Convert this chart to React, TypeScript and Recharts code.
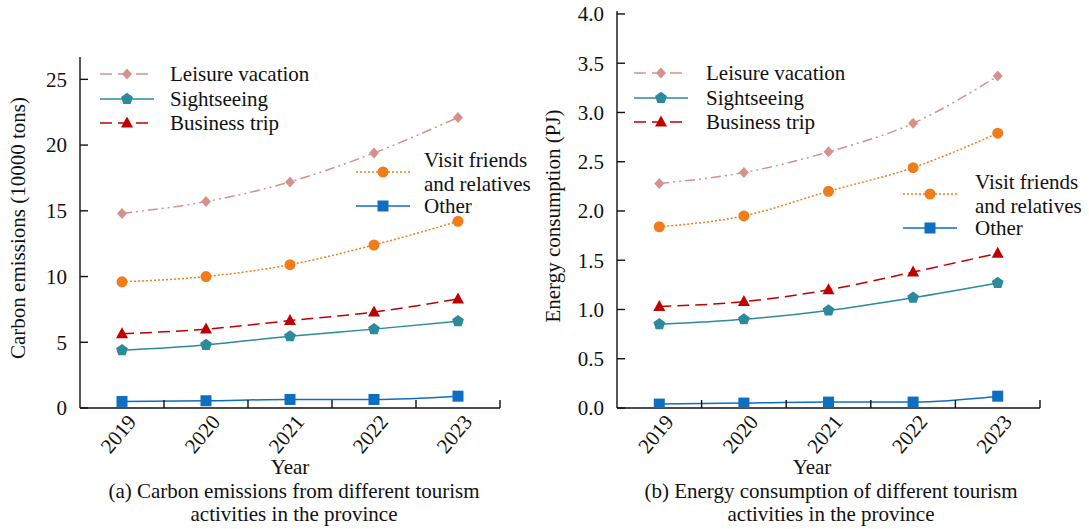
import React from 'react';
import { LineChart, Line, XAxis, YAxis } from 'recharts';

// categories
const years = ['2019', '2020', '2021', '2022', '2023'];

// (a) carbon emissions, 10000 tons
const carbonLeisure = [14.8, 15.7, 17.2, 19.4, 22.1];
const carbonSightseeing = [4.4, 4.8, 5.45, 6.0, 6.6];
const carbonBusiness = [5.65, 6.0, 6.65, 7.3, 8.3];
const carbonVisit = [9.6, 10.0, 10.9, 12.4, 14.2];
const carbonOther = [0.5, 0.55, 0.65, 0.65, 0.9];

// (b) energy consumption, PJ
const energyLeisure = [2.28, 2.39, 2.6, 2.89, 3.37];
const energySightseeing = [0.85, 0.9, 0.99, 1.12, 1.27];
const energyBusiness = [1.03, 1.08, 1.2, 1.38, 1.57];
const energyVisit = [1.84, 1.95, 2.2, 2.44, 2.79];
const energyOther = [0.04, 0.05, 0.06, 0.06, 0.12];

const carbonTicks = [0, 5, 10, 15, 20, 25];
const energyTicks = [0, 0.5, 1, 1.5, 2, 2.5, 3, 3.5, 4];
// integer ticks carry year labels, half ticks are the category boundary marks
const xTicks = [0, 0.5, 1, 1.5, 2, 2.5, 3, 3.5, 4, 4.5];

const buildRows = (a: number[], b: number[], c: number[], d: number[], e: number[]) =>
  years.map((_, i) => ({ i, leisure: a[i], sight: b[i], business: c[i], visit: d[i], other: e[i] }));

const carbonData = buildRows(carbonLeisure, carbonSightseeing, carbonBusiness, carbonVisit, carbonOther);
const energyData = buildRows(energyLeisure, energySightseeing, energyBusiness, energyVisit, energyOther);

const FONT = '"Liberation Serif", "Times New Roman", serif';
const INK = '#111';

type Shape = 'diamond' | 'pentagon' | 'triangle' | 'circle' | 'square';

const series: { key: string; name: string[]; color: string; dash?: string; legendDash?: string; shape: Shape }[] = [
  { key: 'leisure', name: ['Leisure vacation'], color: '#D6918D', dash: '10 4 2 4 2 4', legendDash: '12 6', shape: 'diamond' },
  { key: 'sight', name: ['Sightseeing'], color: '#2B8A9C', shape: 'pentagon' },
  { key: 'business', name: ['Business trip'], color: '#C00000', dash: '12 6', shape: 'triangle' },
  { key: 'visit', name: ['Visit friends', 'and relatives'], color: '#F07C1A', dash: '2 2', shape: 'circle' },
  { key: 'other', name: ['Other'], color: '#0E6FC1', shape: 'square' },
];

const Marker = ({ cx, cy, shape, color }: { cx: number; cy: number; shape: Shape; color: string }) => {
  if (cx == null || cy == null) return null;
  switch (shape) {
    case 'diamond':
      return <polygon points={`${cx},${cy - 5.5} ${cx + 5},${cy} ${cx},${cy + 5.5} ${cx - 5},${cy}`} fill={color} />;
    case 'pentagon': {
      const r = 6.2;
      const pts = [0, 1, 2, 3, 4]
        .map((k) => {
          const a = -Math.PI / 2 + (k * 2 * Math.PI) / 5;
          return `${cx + r * Math.cos(a)},${cy + r * Math.sin(a)}`;
        })
        .join(' ');
      return <polygon points={pts} fill={color} />;
    }
    case 'triangle':
      return <polygon points={`${cx},${cy - 6.5} ${cx + 6},${cy + 4.5} ${cx - 6},${cy + 4.5}`} fill={color} />;
    case 'circle':
      return <circle cx={cx} cy={cy} r={5.5} fill={color} />;
    default:
      return <rect x={cx - 5.5} y={cy - 5.5} width={11} height={11} fill={color} />;
  }
};

const dotFor = (shape: Shape, color: string) => (p: any) => (
  <Marker key={`${shape}-${p.index}`} cx={p.cx} cy={p.cy} shape={shape} color={color} />
);

const XTick = (props: any) => {
  const { x, y, payload } = props;
  const v = payload.value as number;
  if (Number.isInteger(v)) {
    return (
      <text
        transform={`translate(${x + 10},${y + 10}) rotate(-50)`}
        textAnchor="end"
        dominantBaseline="central"
        fontFamily={FONT}
        fontSize={21}
        fill={INK}
      >
        {years[v]}
      </text>
    );
  }
  return <line x1={x} x2={x} y1={y} y2={y - 8} stroke={INK} strokeWidth={1.4} />;
};

const makeYTick = (fmt: (v: number) => string) => (props: any) => {
  const { x, y, payload } = props;
  return (
    <g>
      <line x1={x} x2={x + 8} y1={y} y2={y} stroke={INK} strokeWidth={1.4} />
      <text x={x - 13} y={y} dy="0.35em" textAnchor="end" fontFamily={FONT} fontSize={21} fill={INK}>
        {fmt(payload.value)}
      </text>
    </g>
  );
};

const LegendRow = ({ s, lineX, y, textX, lineGap = 24.5 }: { s: typeof series[number]; lineX: number; y: number; textX: number; lineGap?: number }) => (
  <>
    <svg style={{ position: 'absolute', left: lineX, top: y - 10, overflow: 'visible' }} width={54} height={20}>
      <line x1={0} x2={54} y1={10} y2={10} stroke={s.color} strokeWidth={1.5} strokeDasharray={s.legendDash ?? s.dash} />
      <Marker cx={27} cy={10} shape={s.shape} color={s.color} />
    </svg>
    <div
      style={{
        position: 'absolute',
        left: textX,
        top: y - 12 - ((s.name.length - 1) * lineGap) / 2,
        fontSize: 21,
        lineHeight: `${lineGap}px`,
        whiteSpace: 'nowrap',
        color: INK,
      }}
    >
      {s.name.map((t) => (
        <div key={t}>{t}</div>
      ))}
    </div>
  </>
);

const Caption = ({ cx, top, lines }: { cx: number; top: number; lines: string[] }) => (
  <div
    style={{
      position: 'absolute',
      left: cx - 250,
      width: 500,
      top,
      textAlign: 'center',
      fontSize: 21,
      lineHeight: '23px',
      color: INK,
    }}
  >
    {lines.map((t) => (
      <div key={t}>{t}</div>
    ))}
  </div>
);

const VLabel = ({ cx, cy, text }: { cx: number; cy: number; text: string }) => (
  <div
    style={{
      position: 'absolute',
      left: cx - 200,
      top: cy - 12,
      width: 400,
      textAlign: 'center',
      fontSize: 21,
      lineHeight: '24px',
      transform: 'rotate(-90deg)',
      color: INK,
      whiteSpace: 'nowrap',
    }}
  >
    {text}
  </div>
);

const Panel = ({ data, domain, ticks, fmt, left, marginLeft, yWidth, top }: any) => (
  <div style={{ position: 'absolute', left, top: 0 }}>
    <LineChart width={520} height={529} data={data} margin={{ top, right: 20, left: marginLeft, bottom: 0 }}>
      <XAxis
        dataKey="i"
        type="number"
        domain={[-0.5, 4.5]}
        ticks={xTicks}
        interval={0}
        tick={<XTick />}
        tickLine={false}
        tickSize={0}
        tickMargin={0}
        height={121}
        axisLine={{ stroke: INK, strokeWidth: 1.4 }}
        allowDataOverflow
      />
      <YAxis
        type="number"
        domain={domain}
        ticks={ticks}
        interval={0}
        width={yWidth}
        tick={makeYTick(fmt)}
        tickLine={false}
        tickSize={0}
        tickMargin={0}
        axisLine={{ stroke: INK, strokeWidth: 1.4 }}
        allowDataOverflow
      />
      {series.map((s) => (
        <Line
          key={s.key}
          type="monotone"
          dataKey={s.key}
          stroke={s.color}
          strokeWidth={1.5}
          strokeDasharray={s.dash}
          dot={dotFor(s.shape, s.color)}
          activeDot={false}
          isAnimationActive={false}
        />
      ))}
    </LineChart>
  </div>
);

export default function App() {
  return (
    <div style={{ position: 'fixed', left: 0, top: 0, width: 1089, height: 529, background: '#fff', fontFamily: FONT, overflow: 'hidden' }}>
      <Panel data={carbonData} domain={[0, 26.7]} ticks={carbonTicks} fmt={(v: number) => String(v)} left={0} marginLeft={30} yWidth={50} top={57} />
      <Panel data={energyData} domain={[0, 4.03]} ticks={energyTicks} fmt={(v: number) => v.toFixed(1)} left={540} marginLeft={27} yWidth={50} top={11} />

      {/* legends, panel (a) */}
      <LegendRow s={series[0]} lineX={100} y={74} textX={170} />
      <LegendRow s={series[1]} lineX={100} y={99} textX={170} />
      <LegendRow s={series[2]} lineX={100} y={123} textX={170} />
      <LegendRow s={series[3]} lineX={356} y={172} textX={424} />
      <LegendRow s={series[4]} lineX={356} y={206} textX={424} />

      {/* legends, panel (b) */}
      <LegendRow s={series[0]} lineX={634} y={73} textX={706} />
      <LegendRow s={series[1]} lineX={634} y={98} textX={706} />
      <LegendRow s={series[2]} lineX={634} y={122} textX={706} />
      <LegendRow s={series[3]} lineX={903} y={194} textX={975} />
      <LegendRow s={series[4]} lineX={903} y={228} textX={975} />

      <VLabel cx={18} cy={228} text="Carbon emissions (10000 tons)" />
      <VLabel cx={553} cy={216} text="Energy consumption (PJ)" />

      <Caption cx={290} top={456} lines={['Year']} />
      <Caption cx={294} top={480} lines={['(a) Carbon emissions from different tourism', 'activities in the province']} />
      <Caption cx={812} top={456} lines={['Year']} />
      <Caption cx={831} top={480} lines={['(b) Energy consumption of different tourism', 'activities in the province']} />
    </div>
  );
}
